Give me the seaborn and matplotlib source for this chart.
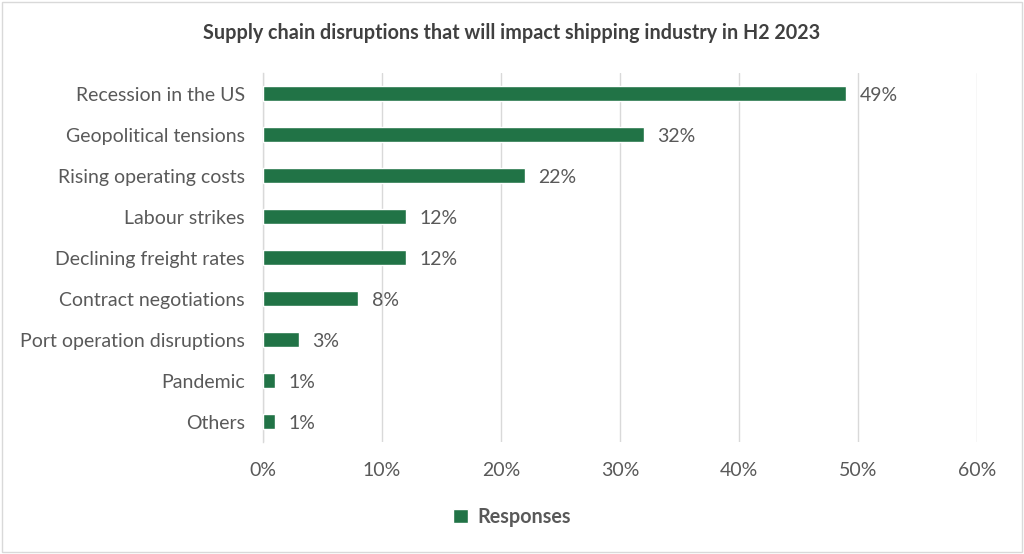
import matplotlib
matplotlib.use("Agg")
import matplotlib.pyplot as plt
import seaborn as sns
import pandas as pd
from matplotlib.patches import Rectangle

categories = ["Recession in the US", "Geopolitical tensions", "Rising operating costs",
              "Labour strikes", "Declining freight rates", "Contract negotiations",
              "Port operation disruptions", "Pandemic", "Others"]
values = [49, 32, 22, 12, 12, 8, 3, 1, 1]
xticks = [0, 10, 20, 30, 40, 50, 60]
xtick_labels = [f"{v}%" for v in xticks]
title = "Supply chain disruptions that will impact shipping industry in H2 2023"
series_name = "Responses"

df = pd.DataFrame({"cat": categories, "val": values})

sns.set_theme(style="white")
plt.rcParams['font.family'] = ['Lato', 'DejaVu Sans']
grey = "#595959"
green = "#217346"

fig = plt.figure(figsize=(10.24, 5.54), dpi=100)
ax = fig.add_axes([0.2568, 0.202, 0.954 - 0.2568, 0.868 - 0.202])
sns.barplot(data=df, x="val", y="cat", color=green, saturation=1, width=0.36,
            ax=ax, label=series_name, zorder=3)
ax.set_xlim(0, 60)
ax.set_ylim(8.5, -0.5)
ax.set_xticks(xticks)
ax.set_xticklabels(xtick_labels)
ax.grid(axis="x", color="#d9d9d9", linewidth=1, zorder=0)
ax.grid(axis="y", visible=False)
for s in ["top", "right", "bottom"]:
    ax.spines[s].set_visible(False)
ax.spines["left"].set_color("#d9d9d9")
ax.spines["left"].set_linewidth(1)
ax.set_xlabel("")
ax.set_ylabel("")
ax.tick_params(axis="both", length=0, colors=grey)
ax.tick_params(axis="y", pad=13, labelsize=14)
ax.tick_params(axis="x", pad=14, labelsize=14)

for i, v in enumerate(values):
    ax.text(v + 1.15, i, f"{v}%", va="center_baseline", ha="left", fontsize=14, color=grey)

fig.text(0.5, 0.94, title, ha="center", va="center", fontsize=14.2, color="#404040",
         fontweight="bold")

leg = ax.legend(loc="center", bbox_to_anchor=(0.5, 1 - 517 / 554), frameon=False,
                handlelength=0.75, handleheight=0.75, handletextpad=0.5,
                prop={"size": 14.2, "weight": "bold"},
                bbox_transform=fig.transFigure)
for t in leg.get_texts():
    t.set_color(grey)

fig.patches.append(Rectangle((0.002, 0.003), 0.996, 0.994, transform=fig.transFigure,
                             fill=False, edgecolor="#d9d9d9", linewidth=1))

fig.savefig("out.png", dpi=100, facecolor="white")
